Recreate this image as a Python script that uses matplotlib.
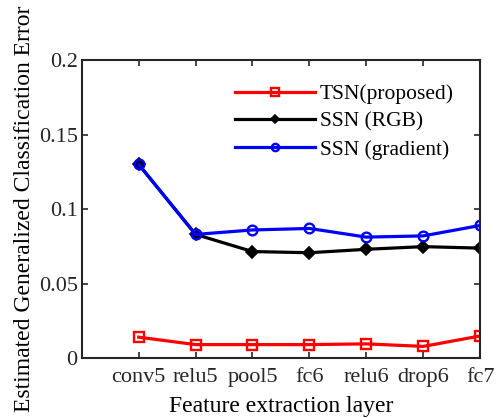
import numpy as np
import matplotlib
matplotlib.use('Agg')
from matplotlib import pyplot as plt

layers = ['conv5', 'relu5', 'pool5', 'fc6', 'relu6', 'drop6', 'fc7']
tsn = [0.014, 0.009, 0.009, 0.009, 0.0095, 0.0078, 0.0148]
ssn_rgb = [0.130, 0.083, 0.0715, 0.0707, 0.073, 0.0748, 0.0738]
ssn_grad = [0.130, 0.083, 0.086, 0.087, 0.0812, 0.082, 0.089]

plt.rcParams['font.family'] = ['Liberation Serif', 'DejaVu Serif']

fig = plt.figure(figsize=(4.99, 4.18), dpi=100)
ax = fig.add_axes([0.164, 0.1435, 0.798, 0.7125])

x = np.arange(1, len(layers) + 1)
ax.plot(x, tsn, color='red', lw=2.3, marker='s', ms=7, mfc='none', mew=1.7,
        label='TSN(proposed)')
ax.plot(x, ssn_rgb, color='black', lw=2.3, marker='D', ms=6, mfc='black', mew=1.2,
        label='SSN (RGB)')
ax.plot(x, ssn_grad, color='blue', lw=2.3, marker='o', ms=7, mfc='none', mew=1.7,
        label='SSN (gradient)')

ax.set_xlim(0, 7)
ax.set_ylim(0, 0.2)
ax.set_xticks(x)
ax.set_xticklabels(layers)
ax.set_yticks([0, 0.05, 0.1, 0.15, 0.2])
ax.set_yticklabels(['0', '0.05', '0.1', '0.15', '0.2'])
ax.tick_params(direction='in', top=True, right=True, labelsize=16,
               length=4, width=1.2, color='#262626', labelcolor='#262626')
ax.tick_params(axis='y', pad=3)
ax.tick_params(axis='x', pad=7)
for s in ax.spines.values():
    s.set_linewidth(1.5)
    s.set_color('#262626')

ax.set_xlabel('Feature extraction layer', fontsize=17, color='black', labelpad=7)
ax.set_ylabel('Estimated Generalized Classification Error', fontsize=17,
              color='black', labelpad=3)

ax.legend(loc='upper left', bbox_to_anchor=(235 / 499, 1 - 84 / 418),
          bbox_transform=fig.transFigure, frameon=False, borderpad=0,
          borderaxespad=0, fontsize=15.5, handlelength=3.7, handletextpad=0.25,
          labelspacing=0.36, markerscale=0.75)

plt.savefig('out.png', dpi=100)
